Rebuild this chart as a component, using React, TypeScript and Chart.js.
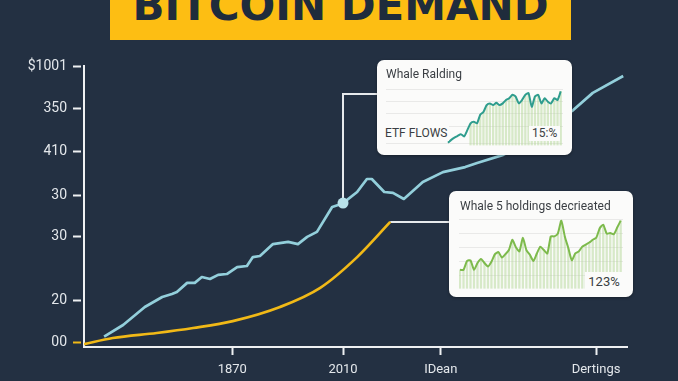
import React, { useEffect, useRef } from "react";
import { Chart, registerables } from "chart.js";

Chart.register(...registerables);

// ---------- main chart data ----------
const blueX = [3.7, 7.2, 11.2, 14.4, 16.2, 17.1, 19.0, 20.4, 21.7, 23.2, 24.7, 26.3, 28.2, 30.0, 31.1, 32.4, 34.8, 37.6, 39.4, 41.1, 42.9, 45.7, 46.8, 47.7, 50.3, 52.1, 53.0, 55.3, 56.9, 58.9, 62.4, 66.1, 70.2, 72.4, 77.2, 80.9, 90.1, 93.7, 99.3];
const blueY = [2.3, 6.5, 13.0, 16.6, 17.7, 18.4, 21.7, 21.7, 23.8, 23.1, 24.6, 24.9, 27.4, 27.8, 31.0, 31.4, 35.7, 36.5, 35.7, 38.3, 40.1, 49.1, 49.8, 50.5, 54.5, 59.2, 59.2, 54.5, 54.2, 52.0, 58.1, 61.7, 63.5, 65.0, 67.9, 71.5, 84.1, 90.3, 96.4];
const yellowX = [0, 5.3, 13.4, 20.1, 27.4, 36.1, 43.5, 50.3, 56.4];
const yellowY = [-0.4, 1.8, 3.6, 5.4, 7.9, 13.0, 19.9, 31.0, 43.7];
const markerX = [47.7];
const markerY = [50.5];

const yTickValues = [0, 15.5, 38.3, 53.4, 69.0, 84.5, 100];
const yTickLabels = ["00", "20", "30", "30", "410", "350", "$1001"];
const xTickValues = [27.3, 47.7, 65.7, 94.3];
const xTickLabels = ["1870", "2010", "IDean", "Dertings"];

// ---------- inset data ----------
const inset1Line = [4, 9, 13, 16, 19, 15, 26, 38, 41, 38, 53, 58, 70, 73, 70, 74, 70, 73, 79, 82, 88, 85, 73, 79, 88, 91, 67, 85, 88, 73, 82, 76, 73, 82, 79, 94];
const inset1Bars = [null, null, null, null, null, null, null, 38, 41, 38, 53, 58, 70, 73, 70, 74, 70, 73, 79, 82, 88, 85, 73, 79, 88, 91, 67, 85, 88, 73, 82, 76, 73, 82, 79, 94];
const inset1Grid = [3, 32, 55, 77, 98];

const inset2Line = [27, 27, 40, 41, 27, 37, 43, 37, 32, 39, 50, 53, 45, 50, 56, 71, 60, 54, 74, 56, 49, 40, 51, 61, 56, 51, 76, 76, 80, 99, 76, 59, 41, 51, 54, 61, 64, 67, 71, 74, 88, 93, 80, 81, 79, 89, 99];
const inset2Bars = [27, 27, 40, 41, 27, 37, 43, 37, 32, 39, 50, 53, 45, 50, 56, 71, 60, 54, 74, 56, 49, 40, 51, 61, 56, 51, 76, 76, 80, 99, 76, 59, 41, 51, 54, 61, 64, 67, 71, 74, 88, 93, 80, 81, 79, 89, 99];
const inset2Grid = [18, 39, 59, 80, 100];

// ---------- styles ----------
const BG = "#233042";
const BLUE = "#93cfdb";
const YELLOW = "#f1b917";
const AXIS = "#eef0f2";
const TICK = "#e3e7eb";

const INSET1 = { left: 377, top: 60, width: 195, height: 95 };
const INSET2 = { left: 449, top: 191, width: 184, height: 106 };
const INSET1_LINK_Y = 94;

const connectorPlugin = {
  id: "connectors",
  beforeDatasetsDraw(chart: any) {
    const { ctx } = chart;
    const x = chart.scales.x;
    const y = chart.scales.y;
    const mx = x.getPixelForValue(markerX[0]);
    const my = y.getPixelForValue(markerY[0]);
    const ex = x.getPixelForValue(yellowX[yellowX.length - 1]);
    const ey = y.getPixelForValue(yellowY[yellowY.length - 1]);
    ctx.save();
    ctx.strokeStyle = "#e6e9ec";
    ctx.lineWidth = 2;
    ctx.beginPath();
    ctx.moveTo(mx, my);
    ctx.lineTo(mx, INSET1_LINK_Y);
    ctx.lineTo(INSET1.left, INSET1_LINK_Y);
    ctx.moveTo(ex, ey);
    ctx.lineTo(INSET2.left, ey);
    ctx.stroke();
    ctx.restore();
  },
};

function makeSpark(
  canvas: HTMLCanvasElement,
  line: number[],
  bars: (number | null)[],
  grid: number[],
  color: string,
  barColor: string,
  xMin: number,
  xMax: number,
  yMin: number,
  yMax: number
) {
  return new Chart(canvas, {
    type: "line",
    data: {
      datasets: [
        {
          type: "line",
          data: line.map((v, i) => ({ x: i, y: v })),
          borderColor: color,
          borderWidth: 2,
          pointRadius: 0,
          tension: 0.2,
          order: 0,
        } as any,
        {
          type: "bar",
          data: bars.map((v, i) => ({ x: i, y: v })),
          backgroundColor: barColor,
          barThickness: 1.6,
          order: 1,
        } as any,
      ],
    },
    options: {
      responsive: false,
      animation: false,
      devicePixelRatio: 1,
      layout: { padding: 0 },
      plugins: { legend: { display: false }, tooltip: { enabled: false } },
      scales: {
        x: { type: "linear", min: xMin, max: xMax, display: false, offset: false },
        y: {
          min: yMin,
          max: yMax,
          afterBuildTicks: (s: any) => {
            s.ticks = grid.map((v) => ({ value: v }));
          },
          afterFit: (s: any) => {
            s.width = 0;
          },
          ticks: { display: false },
          border: { display: false },
          grid: { color: "rgba(0,0,0,0.07)", lineWidth: 1, drawTicks: false },
        },
      },
    } as any,
  });
}

export default function App() {
  const mainRef = useRef<HTMLCanvasElement>(null);
  const s1Ref = useRef<HTMLCanvasElement>(null);
  const s2Ref = useRef<HTMLCanvasElement>(null);

  useEffect(() => {
    Chart.defaults.font.family = "Roboto, 'DejaVu Sans', sans-serif";
    const main = new Chart(mainRef.current!, {
      type: "line",
      data: {
        datasets: [
          {
            label: "Marker",
            data: markerX.map((x, i) => ({ x, y: markerY[i] })),
            pointRadius: 5.5,
            pointBackgroundColor: "#b9e2ea",
            pointBorderWidth: 0,
            showLine: false,
            order: 0,
          },
          {
            label: "Demand",
            data: blueX.map((x, i) => ({ x, y: blueY[i] })),
            borderColor: BLUE,
            borderWidth: 2.7,
            pointRadius: 0,
            tension: 0,
            borderJoinStyle: "round",
            order: 1,
          },
          {
            label: "Supply",
            data: yellowX.map((x, i) => ({ x, y: yellowY[i] })),
            borderColor: YELLOW,
            borderWidth: 2.7,
            pointRadius: 0,
            cubicInterpolationMode: "monotone",
            order: 2,
          },
        ] as any,
      },
      options: {
        responsive: false,
        animation: false,
        devicePixelRatio: 1,
        layout: { padding: { top: 66, right: 51, left: 0, bottom: 0 } },
        plugins: { legend: { display: false }, tooltip: { enabled: false } },
        scales: {
          x: {
            type: "linear",
            min: 0,
            max: 100,
            afterBuildTicks: (s: any) => {
              s.ticks = xTickValues.map((v) => ({ value: v }));
            },
            afterFit: (s: any) => {
              s.height = 34;
            },
            border: { color: AXIS, width: 2 },
            grid: { drawOnChartArea: false, tickLength: 8, tickWidth: 2, tickColor: AXIS },
            ticks: {
              autoSkip: false,
              maxRotation: 0,
              padding: 7,
              color: TICK,
              font: { size: 13 },
              callback: (_v: any, i: number) => xTickLabels[i],
            },
          },
          y: {
            type: "linear",
            min: -1.45,
            max: 100,
            afterBuildTicks: (s: any) => {
              s.ticks = yTickValues.map((v) => ({ value: v }));
            },
            afterFit: (s: any) => {
              s.width = 84;
            },
            border: { color: AXIS, width: 2 },
            grid: {
              drawOnChartArea: false,
              tickLength: 11,
              tickWidth: 2,
              tickColor: (c: any) => (c.index === 0 ? YELLOW : AXIS),
              tickBorderDash: [8, 30],
            },
            ticks: {
              autoSkip: false,
              padding: 6,
              color: TICK,
              font: { size: 14 },
              callback: (_v: any, i: number) => yTickLabels[i],
            },
          },
        },
      } as any,
      plugins: [connectorPlugin],
    });
    const s1 = makeSpark(s1Ref.current!, inset1Line, inset1Bars, inset1Grid, "#2f9d8e", "rgba(170,210,140,0.45)", -19.25, 35.7, -1.75, 105.25);
    const s2 = makeSpark(s2Ref.current!, inset2Line, inset2Bars, inset2Grid, "#7dba4c", "rgba(170,210,140,0.45)", -0.29, 46.66, -2.5, 107.3);
    return () => {
      main.destroy();
      s1.destroy();
      s2.destroy();
    };
  }, []);

  const label: React.CSSProperties = {
    position: "absolute",
    fontSize: 12,
    lineHeight: "15px",
    color: "#3a3e43",
    whiteSpace: "nowrap",
    fontFamily: "Roboto, sans-serif",
  };

  return (
    <div
      style={{
        position: "fixed",
        left: 0,
        top: 0,
        width: 678,
        height: 381,
        background: BG,
        overflow: "hidden",
        fontFamily: "Roboto, sans-serif",
      }}
    >
      <canvas ref={mainRef} width={678} height={381} style={{ position: "absolute", left: 0, top: 0 }} />

      <div style={{ position: "absolute", left: 110, top: -10, width: 461, height: 50, background: "#fdbe13" }}>
        <div
          style={{
            position: "absolute",
            left: 0,
            right: 0,
            top: -7.5,
            textAlign: "center",
            fontFamily: "'DejaVu Sans', sans-serif",
            fontWeight: 700,
            fontSize: 42,
            lineHeight: "46px",
            color: "#1f2c3c",
            whiteSpace: "nowrap",
          }}
        >
          BITCOIN DEMAND
        </div>
      </div>

      <div
        style={{
          position: "absolute",
          left: INSET1.left,
          top: INSET1.top,
          width: INSET1.width,
          height: INSET1.height,
          background: "#fbfbfa",
          borderRadius: 7,
          boxShadow: "0 1px 3px rgba(0,0,0,0.35)",
        }}
      >
        <div style={{ ...label, left: 9, top: 7 }}>Whale Ralding</div>
        <canvas ref={s1Ref} width={177} height={61} style={{ position: "absolute", left: 9, top: 25 }} />
        <div style={{ ...label, left: 8, top: 66, background: "#fbfbfa", paddingRight: 2 }}>ETF FLOWS</div>
        <div style={{ ...label, left: 152, top: 66, background: "#fbfbfa", padding: "0 3px" }}>15:%</div>
      </div>

      <div
        style={{
          position: "absolute",
          left: INSET2.left,
          top: INSET2.top,
          width: INSET2.width,
          height: INSET2.height,
          background: "#fbfbfa",
          borderRadius: 7,
          boxShadow: "0 1px 3px rgba(0,0,0,0.35)",
        }}
      >
        <div style={{ ...label, left: 11, top: 8 }}>Whale 5 holdings decrieated</div>
        <canvas ref={s2Ref} width={164} height={75} style={{ position: "absolute", left: 10, top: 24 }} />
        <div
          style={{
            ...label,
            left: 136,
            top: 81,
            width: 38,
            height: 20,
            lineHeight: "20px",
            textAlign: "center",
            fontSize: 13,
            background: "#fbfbfa",
          }}
        >
          123%
        </div>
      </div>
    </div>
  );
}
